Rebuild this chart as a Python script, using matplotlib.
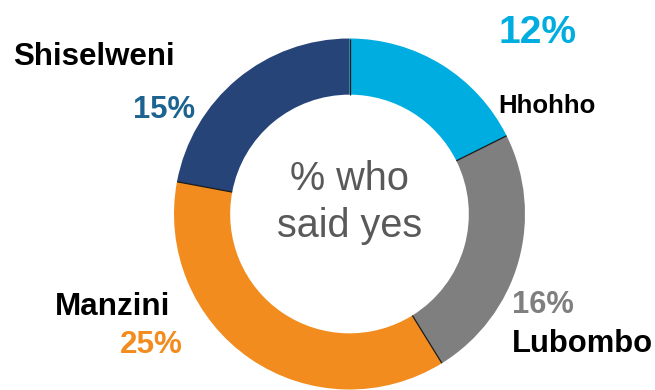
import numpy as np
import matplotlib.pyplot as plt

plt.rcParams['font.family'] = ['Liberation Sans', 'DejaVu Sans']

# share of respondents who said yes, by region
regions = ['Hhohho', 'Lubombo', 'Manzini', 'Shiselweni']
values = [12, 16, 25, 15]
colors = ['#00ade0', '#7f7f7f', '#f28c1e', '#264478']
label_colors = ['#00ade0', '#7f7f7f', '#f28c1e', '#1d6390']

W, H = 655, 390
fig = plt.figure(figsize=(W / 100, H / 100), dpi=100)
ax = fig.add_axes([0, 0, 1, 1])
ax.set_xlim(0, W)
ax.set_ylim(0, H)
ax.axis('off')

cx, cy = 349.5, H - 214
r_out = 175.5
ring = 0.32

ax.pie(values, colors=colors, startangle=90, counterclock=False,
       center=(cx, cy), radius=r_out, frame=True,
       wedgeprops=dict(width=r_out * ring, edgecolor='none', linewidth=0))
ax.set_xlim(0, W)
ax.set_ylim(0, H)
ax.axis('off')

# thin dark separators between the slices
r_in = r_out * (1 - ring)
bounds = 90 - 360 * np.cumsum([0] + values[:-1]) / sum(values)
for a in np.deg2rad(bounds):
    ax.plot([cx + r_in * np.cos(a), cx + r_out * np.cos(a)],
            [cy + r_in * np.sin(a), cy + r_out * np.sin(a)],
            color='#1a1a1a', lw=0.9, solid_capstyle='butt')

def px(x, y, s, **kw):
    ax.text(x, H - y, s, va='baseline', fontweight='bold', **kw)

# region names
px(498, 113, regions[0], fontsize=18.5, color='black')
px(512, 352, regions[1], fontsize=22.3, color='black')
px(170, 315, regions[2], fontsize=22.6, color='black', ha='right')
px(13, 65, regions[3], fontsize=22.5, color='black')

# percentages
px(537.5, 43, f'{values[0]}%', fontsize=28, color=label_colors[0], ha='center')
px(512, 313, f'{values[1]}%', fontsize=22.2, color=label_colors[1])
px(183, 353, f'{values[2]}%', fontsize=22.6, color=label_colors[2], ha='right')
px(195, 118, f'{values[3]}%', fontsize=22.3, color=label_colors[3], ha='right')

# centre caption
ax.text(cx, H - 190, '% who', fontsize=28.5, color='#595959',
        ha='center', va='baseline')
ax.text(cx, H - 237, 'said yes', fontsize=28.5, color='#595959',
        ha='center', va='baseline')

fig.savefig('out.png', dpi=100)
